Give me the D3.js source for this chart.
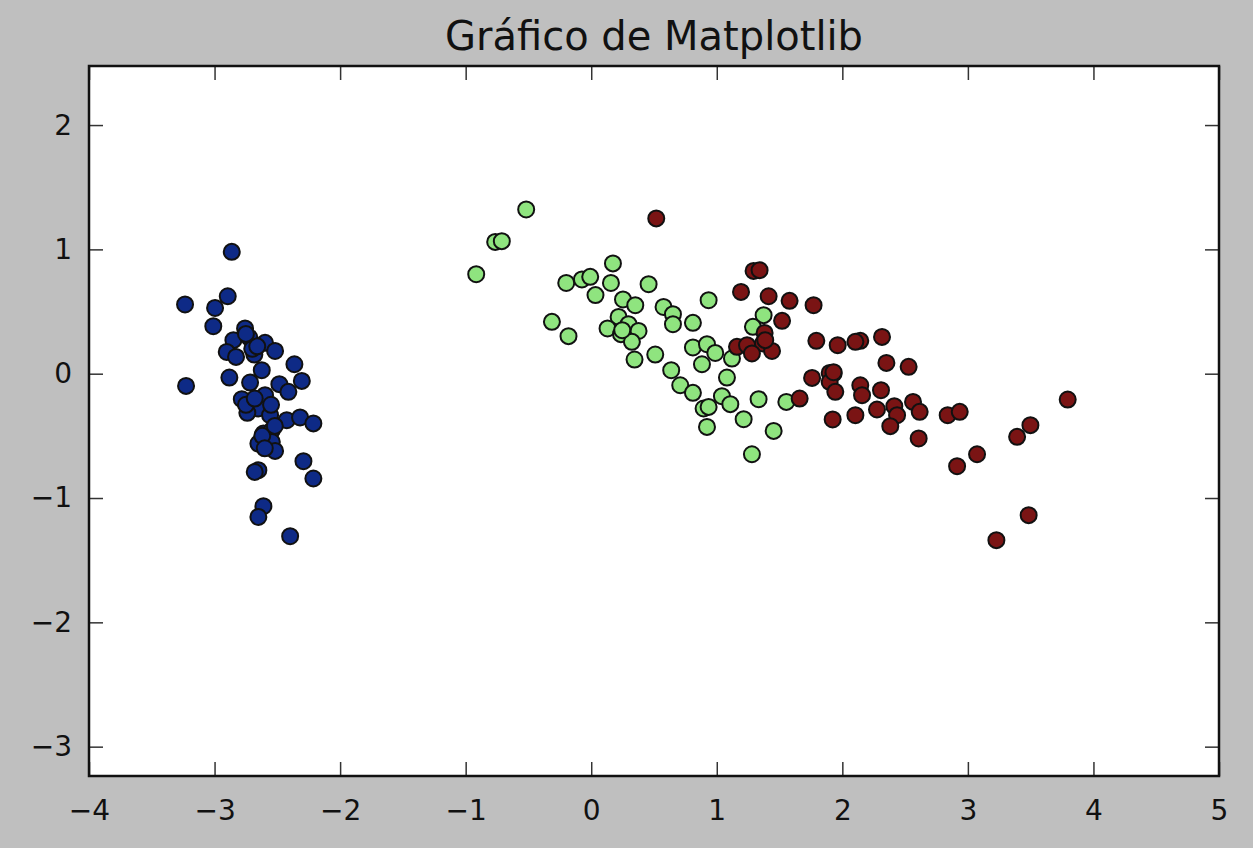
<!DOCTYPE html>
<html>
<head>
<meta charset="utf-8">
<script src="https://cdn.jsdelivr.net/npm/d3@7"></script>
<style>
  body { margin: 0; background: #bfbfbf; }
  svg { display: block; }
</style>
</head>
<body>
<div id="my_dataviz"></div>
<script>
// data (PCA of iris, 3 classes)
var setosa = [
  [-2.863, 0.98], [-3.235, 0.557], [-2.895, 0.623], [-2.996, 0.529], [-3.01, 0.382],
  [-2.757, 0.364], [-2.85, 0.27], [-2.723, 0.291], [-2.598, 0.248], [-2.518, 0.183],
  [-2.903, 0.175], [-2.829, 0.135], [-2.683, 0.154], [-2.624, 0.028], [-2.364, 0.076],
  [-2.882, -0.031], [-2.717, -0.071], [-2.484, -0.084], [-2.305, -0.058], [-2.412, -0.146],
  [-3.227, -0.098], [-2.783, -0.205], [-2.598, -0.173], [-2.651, -0.28], [-2.558, -0.334],
  [-2.739, -0.315], [-2.425, -0.374], [-2.319, -0.352], [-2.213, -0.40], [-2.611, -0.481],
  [-2.544, -0.455], [-2.651, -0.562], [-2.544, -0.549], [-2.518, -0.621], [-2.292, -0.704],
  [-2.651, -0.776], [-2.213, -0.843], [-2.611, -1.066], [-2.651, -1.152], [-2.398, -1.307],
  [-2.70, 0.20], [-2.62, -0.50], [-2.55, -0.25], [-2.66, 0.22], [-2.75, -0.25],
  [-2.60, -0.60], [-2.75, 0.32], [-2.68, -0.20], [-2.52, -0.42], [-2.68, -0.79]
];
var versicolor = [
  [-0.518, 1.321], [-0.765, 1.06], [-0.712, 1.066], [-0.916, 0.80], [0.173, 0.887],
  [-0.199, 0.73], [-0.074, 0.758], [-0.008, 0.779], [0.157, 0.73], [0.457, 0.72],
  [0.034, 0.632], [0.253, 0.597], [0.351, 0.551], [0.576, 0.537], [0.651, 0.479],
  [0.651, 0.398], [0.81, 0.409], [0.218, 0.457], [0.297, 0.398], [0.13, 0.364],
  [0.237, 0.318], [0.377, 0.344], [0.324, 0.256], [-0.313, 0.417], [-0.181, 0.302],
  [0.345, 0.114], [0.51, 0.154], [0.637, 0.028], [0.81, 0.211], [0.709, -0.093],
  [0.935, 0.591], [1.373, 0.471], [1.288, 0.377], [0.922, 0.237], [0.988, 0.167],
  [1.121, 0.122], [0.882, 0.076], [1.081, -0.031], [0.81, -0.154], [1.041, -0.181],
  [1.108, -0.245], [0.895, -0.28], [0.935, -0.267], [0.922, -0.428], [1.214, -0.366],
  [1.333, -0.205], [1.554, -0.227], [1.453, -0.46], [1.28, -0.648], [0.247, 0.35]
];
var virginica = [
  [0.518, 1.249], [1.293, 0.827], [1.341, 0.833], [1.193, 0.658], [1.413, 0.623],
  [1.58, 0.586], [1.771, 0.551], [1.52, 0.425], [1.381, 0.328], [1.368, 0.243],
  [1.161, 0.216], [1.241, 0.229], [1.28, 0.163], [1.44, 0.183], [1.793, 0.264],
  [1.963, 0.229], [1.759, -0.034], [1.899, 0.006], [1.931, 0.002], [1.899, -0.066],
  [1.944, -0.146], [1.66, -0.20], [1.923, -0.368], [2.143, 0.264], [2.104, 0.256],
  [2.316, 0.296], [2.351, 0.087], [2.528, 0.055], [2.143, -0.093], [2.157, -0.173],
  [2.308, -0.133], [2.104, -0.334], [2.276, -0.288], [2.414, -0.261], [2.436, -0.334],
  [2.382, -0.422], [2.563, -0.227], [2.616, -0.307], [2.608, -0.521], [2.839, -0.334],
  [2.935, -0.307], [3.498, -0.414], [3.392, -0.508], [3.795, -0.208], [3.073, -0.648],
  [2.914, -0.744], [3.227, -1.339], [3.484, -1.138], [1.386, 0.27], [1.93, 0.012]
];
var xTicks = [-4, -3, -2, -1, 0, 1, 2, 3, 4, 5];
var yTicks = [-3, -2, -1, 0, 1, 2];
var classNames = ["setosa", "versicolor", "virginica"];
var classColors = ["#0e2a86", "#8fe47f", "#7a1414"];

var W = 1253, H = 848;
var margin = {top: 66, right: 34, bottom: 72, left: 89},
    width = W - margin.left - margin.right,
    height = H - margin.top - margin.bottom;

var svg = d3.select("#my_dataviz")
  .append("svg")
    .attr("width", W)
    .attr("height", H);

svg.append("rect").attr("width", W).attr("height", H).attr("fill", "#bfbfbf");

var g = svg.append("g")
    .attr("transform", "translate(" + margin.left + "," + margin.top + ")");

var x = d3.scaleLinear().domain([-4, 5]).range([0, width]);
var y = d3.scaleLinear().domain([-3.236, 2.475]).range([height, 0]);

g.append("rect")
  .attr("width", width).attr("height", height)
  .attr("fill", "white");

// points
var groups = [setosa, versicolor, virginica];
groups.forEach(function(pts, i) {
  g.append("g")
    .attr("class", classNames[i])
    .selectAll("circle")
    .data(pts)
    .enter().append("circle")
      .attr("cx", function(d) { return x(d[0]); })
      .attr("cy", function(d) { return y(d[1]); })
      .attr("r", 8)
      .attr("fill", classColors[i])
      .attr("stroke", "#111")
      .attr("stroke-width", 2);
});

// axes: ticks inside on all four sides, matplotlib classic look
var tickLen = 14;
var fmt = d3.format("d");
var font = "DejaVu Sans, sans-serif";

var xb = g.append("g")
  .attr("transform", "translate(0," + height + ")")
  .call(d3.axisBottom(x).tickValues(xTicks).tickFormat(fmt).tickSizeInner(-tickLen).tickSizeOuter(0).tickPadding(tickLen + 10));
var xt = g.append("g")
  .call(d3.axisTop(x).tickValues(xTicks).tickFormat("").tickSizeInner(-tickLen).tickSizeOuter(0));
var yl = g.append("g")
  .call(d3.axisLeft(y).tickValues(yTicks).tickFormat(fmt).tickSizeInner(-tickLen).tickSizeOuter(0).tickPadding(tickLen + 3));
var yr = g.append("g")
  .attr("transform", "translate(" + width + ",0)")
  .call(d3.axisRight(y).tickValues(yTicks).tickFormat("").tickSizeInner(-tickLen).tickSizeOuter(0));

[xb, xt, yl, yr].forEach(function(a) {
  a.select(".domain").remove();
  a.selectAll(".tick line").attr("stroke", "#333").attr("stroke-width", 1.5);
  a.selectAll("text")
    .attr("fill", "#111")
    .style("font-family", font)
    .style("font-size", "28px");
});

// frame
g.append("rect")
  .attr("width", width).attr("height", height)
  .attr("fill", "none")
  .attr("stroke", "#111")
  .attr("stroke-width", 2.5);

// title
svg.append("text")
  .attr("x", margin.left + width / 2)
  .attr("y", 50)
  .style("text-anchor", "middle")
  .style("font-family", font)
  .style("font-size", "40px")
  .attr("fill", "#111")
  .text("Gráfico de Matplotlib");
</script>
</body>
</html>
